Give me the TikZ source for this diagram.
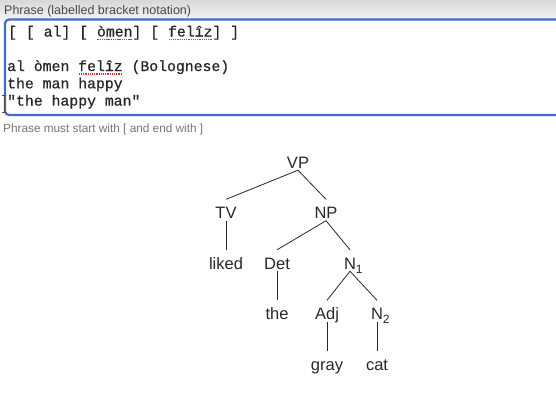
\documentclass[tikz,border=0pt]{standalone}
\usepackage{fontspec}
\setmainfont{Liberation Sans}
\setmonofont{Liberation Mono}
\newfontfamily\codefont[FakeBold=0.7]{Liberation Mono}
\usetikzlibrary{positioning}
\usepackage{xcolor}
\definecolor{fieldblue}{RGB}{66,108,205}
\definecolor{bandgrey}{RGB}{216,216,216}
\definecolor{labelgrey}{RGB}{72,72,72}
\definecolor{hintgrey}{RGB}{118,118,118}
\definecolor{spellred}{RGB}{226,44,44}
\definecolor{treegrey}{RGB}{40,40,40}
% dotted spell-check underline
\newcommand{\spellerr}[1]{\setbox0\hbox{#1}\rlap{\raisebox{-3.6pt}{\color{spellred}\leaders\hbox to 2.2pt{\hss\rule{1.3pt}{1.3pt}\hss}\hskip\wd0}}#1}
% subscript that does not widen the node
\newcommand{\lowidx}[1]{\rlap{\raisebox{-4pt}{\fontsize{12}{12}\selectfont #1}}}
\tikzset{
  fieldlabel/.style={
    anchor=base west,
    inner sep=0pt,
    text=labelgrey,
    font=\fontsize{12.5}{14}\selectfont
  },
  hint/.style={
    fieldlabel,
    text=hintgrey,
    font=\fontsize{11.8}{14}\selectfont
  },
  codeline/.style={
    anchor=base west,
    inner sep=0pt,
    text=black!85,
    font=\codefont\fontsize{14.8}{17}\selectfont
  },
  field/.style={draw=fieldblue, line width=2.2pt, rounded corners=4pt, fill=white},
  tnode/.style={
    inner sep=0pt,
    text height=19pt,
    text depth=2pt,
    text=treegrey,
    font=\fontsize{16.5}{18}\selectfont
  },
  branch/.style={draw=treegrey, line width=0.8pt},
}
\begin{document}
\begin{tikzpicture}[x=1pt, y=-1pt, node distance=50.5pt and 25pt, on grid]
\useasboundingbox (0,0) rectangle (556,400);
\fill[white] (0,0) rectangle (556,400);

% Input field
\shade[top color=bandgrey, bottom color=black!5] (0,0) rectangle (556,19);
\draw[field] (5,19.5) rectangle (580,115);
\node[fieldlabel] (phraselabel) at (4,14) {Phrase (labelled bracket notation)};
\node[codeline] (line1) at (8,36.5) {[ [ al] [ \spellerr{òmen}] [ \spellerr{felîz}] ]};
\node[codeline] (line3) at (7,71) {al òmen \spellerr{felîz} (Bolognese)};
\node[codeline] (line4) at (7,88.3) {the man happy};
\node[codeline] (line5) at (7,105.6) {"the happy man"};
\draw[black!70, line width=0.8pt] (4,95) -- (4,112) (2,95) -- (6,95) (2,112) -- (6,112);
\node[hint] (hint) at (3,132) {Phrase must start with [ and end with ]};

% Tree
\node[tnode] (vp) at (298,159.5) {VP};
\node[tnode, below left=50.5pt and 72pt of vp] (tv) {TV};
\node[tnode, below right=50.5pt and 28pt of vp] (np) {NP};
\node[tnode, below=of tv] (liked) {liked};
\node[tnode, below left=50.5pt and 49pt of np] (det) {Det};
\node[tnode, below right=50.5pt and 24pt of np] (nbar) {N\lowidx{1}};
\node[tnode, below=of det] (the) {the};
\node[tnode, below left=50.5pt and 23pt of nbar] (adj) {Adj};
\node[tnode, below right=50.5pt and 27pt of nbar] (noun) {N\lowidx{2}};
\node[tnode, below=of adj] (gray) {gray};
\node[tnode, below=of noun] (catword) {cat};

\draw[branch] (vp.south) -- (tv.north);
\draw[branch] (vp.south) -- (np.north);
\draw[branch] (tv.south) -- (liked.north);
\draw[branch] (np.south) -- (det.north);
\draw[branch] (np.south) -- (nbar.north);
\draw[branch] (det.south) -- (the.north);
\draw[branch] (nbar.south) -- (adj.north);
\draw[branch] (nbar.south) -- (noun.north);
\draw[branch] (adj.south) -- (gray.north);
\draw[branch] (noun.south) -- (catword.north);

\end{tikzpicture}
\end{document}
